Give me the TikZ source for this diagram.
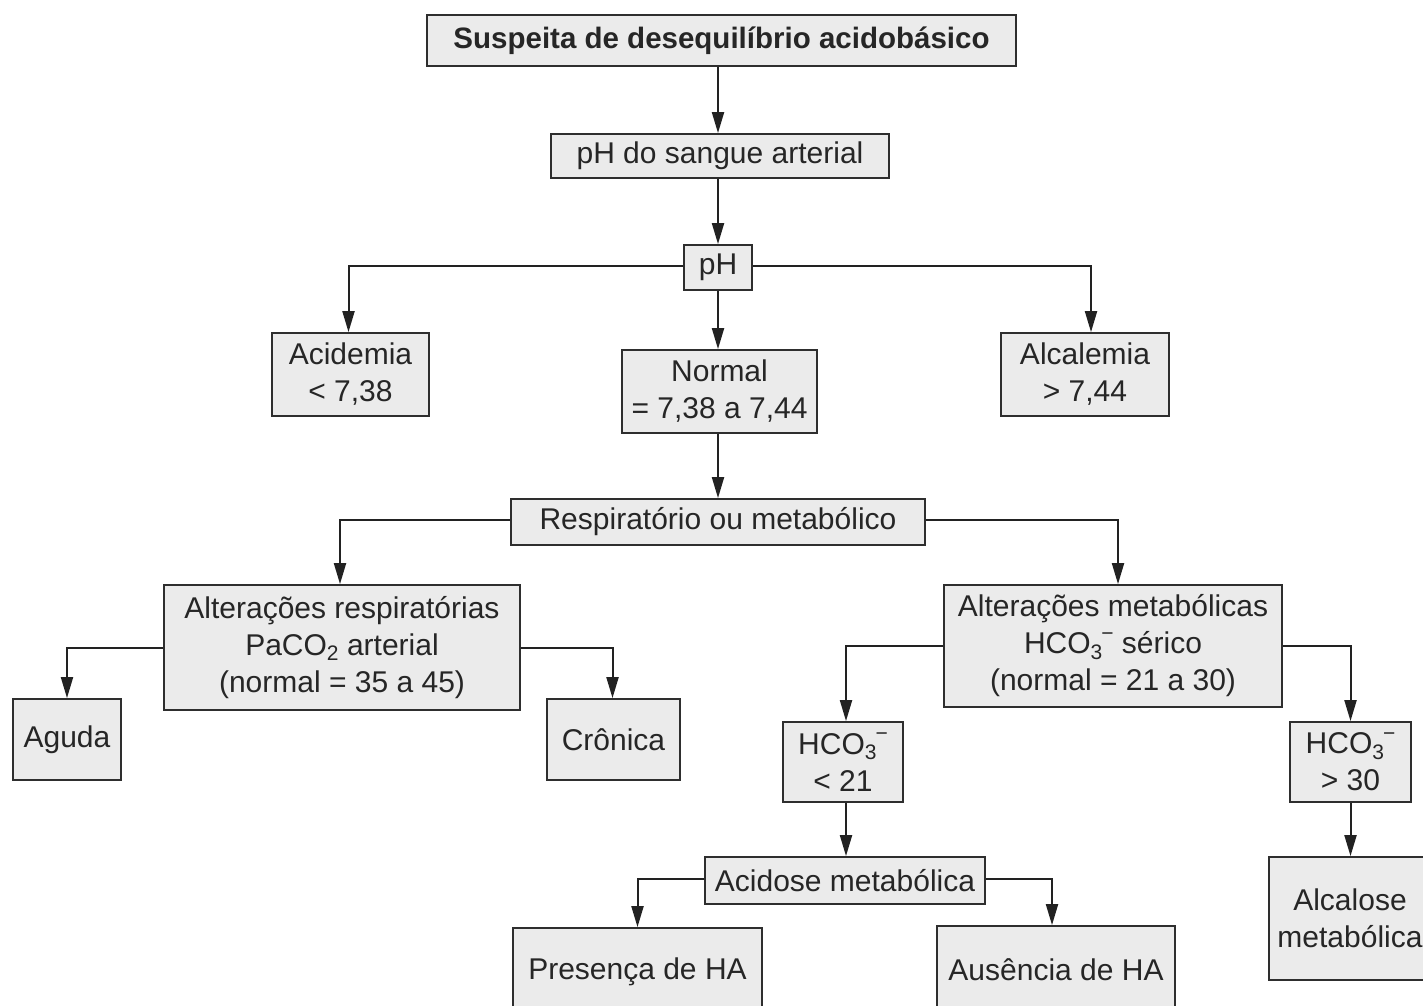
\documentclass[tikz,border=0pt]{standalone}
\usepackage{fontspec}
\setmainfont{Liberation Sans}
\usetikzlibrary{arrows.meta}

\definecolor{boxfill}{HTML}{EBEBEB}
\definecolor{boxline}{HTML}{2E2E2E}
\definecolor{inkline}{HTML}{222222}
\definecolor{inktext}{HTML}{262626}

% chemical sub- and superscripts in the text font
\newcommand{\chemsub}[1]{\raisebox{-0.32ex}{\fontsize{21}{21}\selectfont #1}}
\newcommand{\chemsup}[1]{\raisebox{0.85ex}{\fontsize{21}{21}\selectfont #1}}
\newcommand{\hco}{HCO\chemsub{3}\kern-1pt\chemsup{−}}

\tikzset{
  flowbox/.style={draw=boxline, fill=boxfill, line width=1.8pt, inner sep=0pt,
    align=center, text=inktext, font=\fontsize{30}{37}\selectfont},
  conn/.style={draw=inkline, line width=2pt,
    -{Triangle[length=21pt,width=12pt]}},
}

\begin{document}
\begin{tikzpicture}[x=1pt,y=-1pt]
\clip (0,0) rectangle (1423,1005);
\fill[white] (0,0) rectangle (1423,1005);

% boxes (centres and sizes in pixel units)
\node[flowbox, minimum width=589, minimum height=51, font=\fontsize{29.5}{37}\selectfont\bfseries]
  (top) at (721.5,40.5) {Suspeita de desequilíbrio acidobásico};
\node[flowbox, minimum width=338, minimum height=44] (blood) at (720,156) {pH do sangue arterial};
\node[flowbox, minimum width=68, minimum height=45] (ph) at (718,267.5) {pH};
\node[flowbox, minimum width=157, minimum height=83] (acid) at (350.5,374.5) {Acidemia\\< 7,38};
\node[flowbox, minimum width=195, minimum height=83] (normal) at (719.5,391.5) {Normal\\= 7,38 a 7,44};
\node[flowbox, minimum width=168, minimum height=83] (alcal) at (1085,374.5) {Alcalemia\\> 7,44};
\node[flowbox, minimum width=414, minimum height=46] (resp) at (718,522) {Respiratório ou metabólico};
\node[flowbox, minimum width=356, minimum height=125] (altresp) at (342,647.5)
  {Alterações respiratórias\\PaCO\chemsub{2} arterial\\(normal = 35 a 45)};
\node[flowbox, minimum width=108, minimum height=81] (aguda) at (67,739.5) {Aguda};
\node[flowbox, minimum width=133, minimum height=81] (cronica) at (613.5,739.5) {Crônica};
\node[flowbox, minimum width=338, minimum height=122] (altmet) at (1113,646)
  {Alterações metabólicas\\\hco{} sérico\\(normal = 21 a 30)};
\node[flowbox, minimum width=120, minimum height=80] (hlow) at (843,762) {\hco\\< 21};
\node[flowbox, minimum width=121, minimum height=80] (hhigh) at (1350.5,762) {\hco\\> 30};
\node[flowbox, minimum width=280, minimum height=47] (acidose) at (845,880.5) {Acidose metabólica};
\node[flowbox, minimum width=249, minimum height=88] (presenca) at (637.5,972) {Presença de HA};
\node[flowbox, minimum width=238, minimum height=88] (ausencia) at (1056,970) {Ausência de HA};
\node[flowbox, minimum width=162, minimum height=123] (alcalose) at (1350,918.5) {Alcalose\\metabólica};

% connectors
\draw[conn] (top.south -| ph) -- (blood.north -| ph);
\draw[conn] (blood.south -| ph) -- (ph.north);
\draw[conn] ([yshift=2pt]ph.west) -| ([xshift=-2pt]acid.north);
\draw[conn] ([yshift=2pt]ph.east) -| ([xshift=6pt]alcal.north);
\draw[conn] (ph.south) -- (normal.north -| ph);
\draw[conn] (normal.south -| ph) -- (resp.north -| ph);
\draw[conn] ([yshift=2pt]resp.west) -| ([xshift=-2pt]altresp.north);
\draw[conn] ([yshift=2pt]resp.east) -| ([xshift=5pt]altmet.north);
\draw[conn] (altresp.west) -| (aguda.north);
\draw[conn] (altresp.east) -| ([xshift=-1pt]cronica.north);
\draw[conn] (altmet.west) -| ([xshift=3pt]hlow.north);
\draw[conn] (altmet.east) -| (hhigh.north);
\draw[conn] ([xshift=3pt]hlow.south) -- ([xshift=3pt]acidose.north -| hlow);
\draw[conn] (hhigh.south) -- (alcalose.north -| hhigh);
\draw[conn] ([yshift=2pt]acidose.west) -| (presenca.north);
\draw[conn] ([yshift=2pt]acidose.east) -| ([xshift=-4pt]ausencia.north);
\end{tikzpicture}
\end{document}
